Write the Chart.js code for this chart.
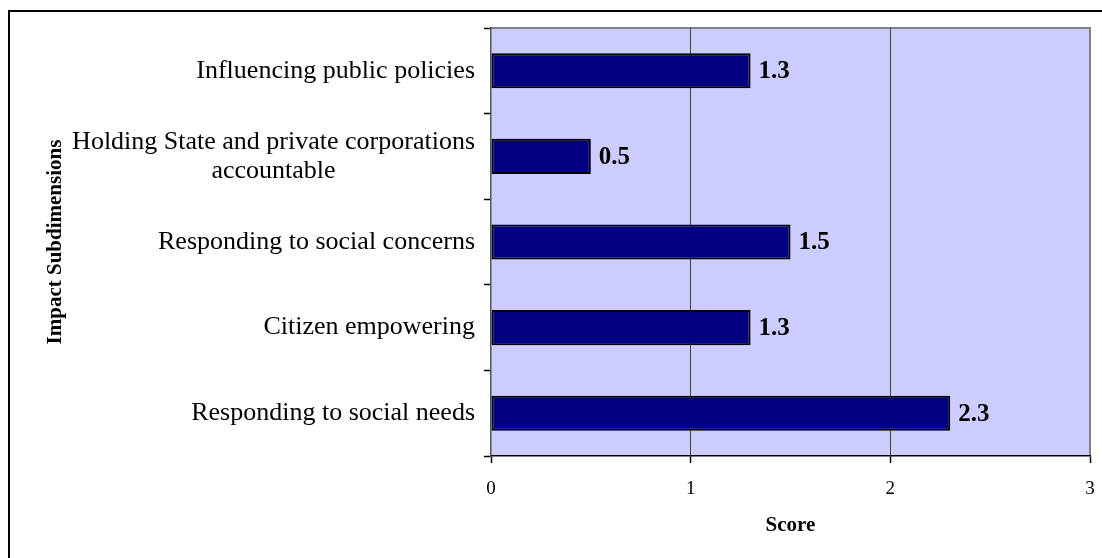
<!DOCTYPE html>
<html>
<head>
<meta charset="utf-8">
<script src="https://cdn.jsdelivr.net/npm/chart.js@4.4.1/dist/chart.umd.min.js"></script>
<style>
  html, body { margin: 0; padding: 0; background: #fff; }
  #wrap { width: 1102px; height: 558px; position: relative; }
</style>
</head>
<body>
<div id="wrap"><canvas id="myChart"></canvas></div>
<script>
// Dados do gráfico
const categories = [
    ["Influencing public policies"],
    ["Holding State and private corporations", "accountable"],
    ["Responding to social concerns"],
    ["Citizen empowering"],
    ["Responding to social needs"]
];
const scores = [1.3, 0.5, 1.5, 1.3, 2.3];
const scoreLabels = ["1.3", "0.5", "1.5", "1.3", "2.3"];
const xTicks = [0, 1, 2, 3];

const serif = "'Liberation Serif', 'Times New Roman', serif";

// moldura, fundo da área do gráfico, rótulos
const decorPlugin = {
    id: 'decor',
    beforeDraw(chart) {
        const ctx = chart.ctx;
        const a = chart.chartArea;
        ctx.save();
        ctx.fillStyle = '#fff';
        ctx.fillRect(0, 0, chart.width, chart.height);
        // moldura externa
        ctx.strokeStyle = '#000';
        ctx.lineWidth = 2;
        ctx.beginPath();
        ctx.moveTo(9, chart.height);
        ctx.lineTo(9, 11);
        ctx.lineTo(chart.width, 11);
        ctx.stroke();
        // fundo
        ctx.fillStyle = '#CCCCFF';
        ctx.fillRect(a.left, a.top, a.right - a.left, a.bottom - a.top);
        ctx.strokeStyle = '#808080';
        ctx.lineWidth = 2;
        ctx.beginPath();
        ctx.moveTo(a.left, a.top);
        ctx.lineTo(a.right, a.top);
        ctx.lineTo(a.right, a.bottom);
        ctx.stroke();
        ctx.restore();
    },
    afterDatasetsDraw(chart) {
        const ctx = chart.ctx;
        const yScale = chart.scales.y;
        ctx.save();
        // rótulos das categorias (centralizados em bloco, alinhados à direita)
        ctx.fillStyle = '#000';
        ctx.font = '26px ' + serif;
        ctx.textBaseline = 'middle';
        ctx.textAlign = 'center';
        const rightEdge = yScale.right - 16;
        const lh = 29;
        categories.forEach((lines, i) => {
            const cy = yScale.getPixelForValue(i);
            const w = Math.max(...lines.map(l => ctx.measureText(l).width));
            const cx = rightEdge - w / 2;
            const top = cy - (lines.length - 1) * lh / 2;
            lines.forEach((l, j) => ctx.fillText(l, cx, top + j * lh));
        });
        // valores
        ctx.font = 'bold 25px ' + serif;
        ctx.textAlign = 'left';
        const meta = chart.getDatasetMeta(0);
        meta.data.forEach((bar, i) => {
            ctx.fillText(scoreLabels[i], bar.x + 8, bar.y + 1);
        });
        ctx.restore();
    }
};

const config = {
    type: 'bar',
    data: {
        labels: categories,
        datasets: [
            {
                data: scores,
                backgroundColor: '#000080',
                borderColor: '#000',
                borderWidth: 2,
                borderSkipped: false,
                categoryPercentage: 1,
                barPercentage: 0.41
            }
        ]},
    options: {
        indexAxis: 'y',
        responsive: true,
        maintainAspectRatio: false,
        animation: false,
        layout: {
            padding: { top: 28, right: 12, left: 0, bottom: 0 }
        },
        plugins: {
            legend: { display: false },
            tooltip: { enabled: false }
        },
        scales: {
            x: {
                min: 0,
                max: 3,
                afterBuildTicks(scale) {
                    scale.ticks = xTicks.map(v => ({ value: v }));
                },
                afterFit(scale) {
                    scale.height = 102;
                    scale.paddingLeft = 0;
                    scale.paddingRight = 0;
                },
                grid: {
                    color: ctx => (ctx.tick && (ctx.tick.value === 1 || ctx.tick.value === 2)) ? '#404040' : 'rgba(0,0,0,0)',
                    lineWidth: 1,
                    drawTicks: true,
                    tickLength: 7,
                    tickColor: '#000',
                    tickWidth: 1.5
                },
                border: { display: true, color: '#000', width: 1.5 },
                ticks: {
                    color: '#000',
                    padding: 15,
                    maxRotation: 0,
                    font: { family: serif, size: 19 }
                },
                title: {
                    display: true,
                    text: 'Score',
                    color: '#000',
                    padding: { top: 0, bottom: 20 },
                    font: { family: serif, size: 21, weight: 'bold' }
                }
            },
            y: {
                afterFit(scale) {
                    scale.width = 491;
                },
                grid: {
                    offset: true,
                    drawOnChartArea: false,
                    drawTicks: true,
                    tickLength: 7,
                    tickColor: '#000',
                    tickWidth: 1.5
                },
                border: { display: true, color: '#555', width: 1.5 },
                ticks: { display: false },
                title: {
                    display: true,
                    text: 'Impact Subdimensions',
                    color: '#000',
                    padding: { top: 43, bottom: 0 },
                    font: { family: serif, size: 21, weight: 'bold' }
                }
            }
        }
    },
    plugins: [decorPlugin]
};

const ctx = document.getElementById('myChart');
const myChart = new Chart(ctx, config);
</script>
</body>
</html>
